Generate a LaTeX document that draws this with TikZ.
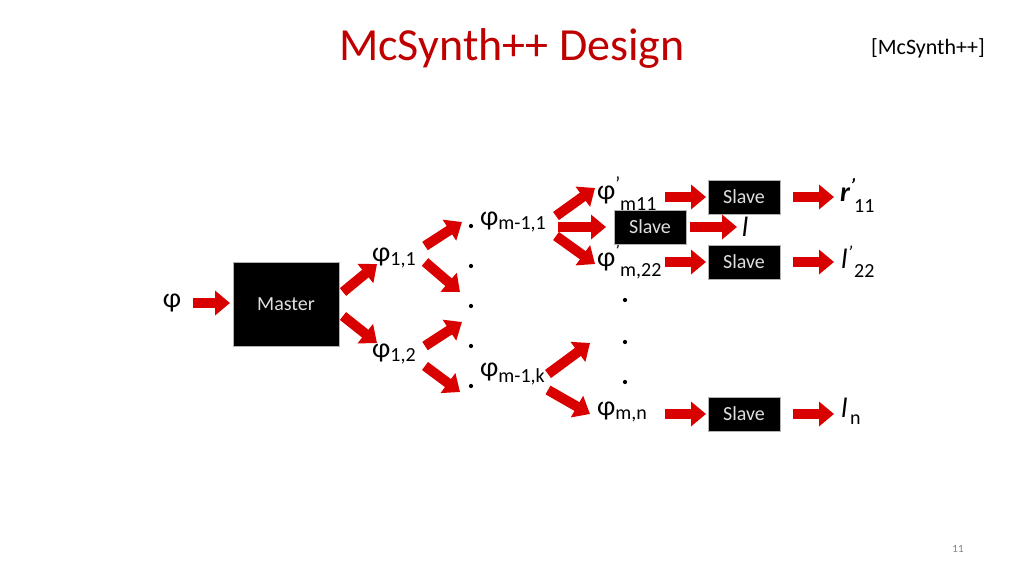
\documentclass[tikz,border=0pt]{standalone}
\usepackage{fontspec}
\setmainfont{Carlito}
\usetikzlibrary{arrows.meta}
\begin{document}
\begin{tikzpicture}[x=1pt,y=-1pt,
  ra/.style={draw=red!85!black,line width=10pt,-{Triangle[width=24pt,length=15pt]}},
  box/.style={fill=black,draw=gray!60,text=gray!25,inner sep=0pt,font=\fontsize{20}{22}\selectfont},
  lab/.style={font=\fontsize{28}{30}\selectfont,inner sep=0pt,anchor=west},
  sub/.style={font=\fontsize{20}{20}\selectfont,anchor=west,inner sep=0pt},
  dot/.style={circle,fill=black,inner sep=1.5pt}]
\useasboundingbox (0,0) rectangle (1024,576);
\node[text={rgb,255:red,192;green,0;blue,0},font=\fontsize{46}{50}\selectfont] (title) at (512,48) {McSynth++ Design};
\node[font=\fontsize{22}{24}\selectfont] (tag) at (928,48) {[McSynth++]};
\node[text=gray,font=\fontsize{11}{12}\selectfont] (pg) at (958,549) {11};
\node[lab,anchor=center] (phi) at (172,303) {φ};
\node[box,minimum width=106pt,minimum height=84pt] (master) at (286,304) {Master};
\node[lab] (p11) at (372,258) {φ\textsubscript{\fontsize{20}{20}\selectfont 1,1}};
\node[lab] (p12) at (372,354) {φ\textsubscript{\fontsize{20}{20}\selectfont 1,2}};
\foreach \y [count=\i] in {226,266,306,346,386} \node[dot] (d\i) at (471,\y) {};
\node[lab] (pm1) at (480,222) {φ\textsubscript{\fontsize{20}{20}\selectfont m-1,1}};
\node[lab] (pmk) at (480,374) {φ\textsubscript{\fontsize{20}{20}\selectfont m-1,k}};
\node[lab] (q1) at (597,190) {φ\textsuperscript{'}};
\node[sub] (q1s) at (620,204) {m11};
\node[lab] (q2) at (597,257) {φ\textsuperscript{'}};
\node[sub] (q2s) at (620,271) {m,22};
\node[lab] (qn) at (597,412) {φ\textsubscript{\fontsize{20}{20}\selectfont m,n}};
\foreach \y [count=\i] in {300,342,382} \node[dot] (e\i) at (625,\y) {};
\node[box,minimum width=72pt,minimum height=34pt] (s1) at (744,197) {Slave};
\node[box,minimum width=72pt,minimum height=34pt] (s2) at (744,262) {Slave};
\node[box,minimum width=72pt,minimum height=34pt] (sn) at (744,414) {Slave};
\node[box,minimum width=72pt,minimum height=34pt] (sx) at (650,227) {Slave};
\node[font=\fontsize{28}{30}\selectfont\bfseries\itshape,anchor=west,inner sep=0pt] (r1) at (840,190) {r\textsuperscript{'}};
\node[sub] (r1s) at (854,206) {11};
\node[font=\fontsize{28}{30}\selectfont\itshape] (lx) at (745,227) {l};
\node[font=\fontsize{28}{30}\selectfont\itshape,anchor=west,inner sep=0pt] (l2) at (841,257) {l\textsuperscript{'}};
\node[sub] (l2s) at (854,271) {22};
\node[font=\fontsize{28}{30}\selectfont\itshape,anchor=west,inner sep=0pt] (ln) at (841,408) {l};
\node[sub] (lns) at (850,420) {n};
% arrows
\draw[ra] (193,303) -- (230,303);
\draw[ra] (343,292) -- (377,264);
\draw[ra] (343,316) -- (377,343);
\draw[ra] (425,246) -- (462,222);
\draw[ra] (425,262) -- (460,292);
\draw[ra] (425,346) -- (462,322);
\draw[ra] (425,366) -- (460,392);
\draw[ra] (556,216) -- (595,188);
\draw[ra] (558,227) -- (606,227);
\draw[ra] (556,236) -- (595,264);
\draw[ra] (548,374) -- (590,343);
\draw[ra] (548,390) -- (590,414);
\draw[ra] (665,197) -- (706,197);
\draw[ra] (665,262) -- (706,262);
\draw[ra] (665,414) -- (706,414);
\draw[ra] (690,227) -- (737,227);
\draw[ra] (793,197) -- (834,197);
\draw[ra] (793,262) -- (834,262);
\draw[ra] (793,414) -- (834,414);
\end{tikzpicture}
\end{document}
